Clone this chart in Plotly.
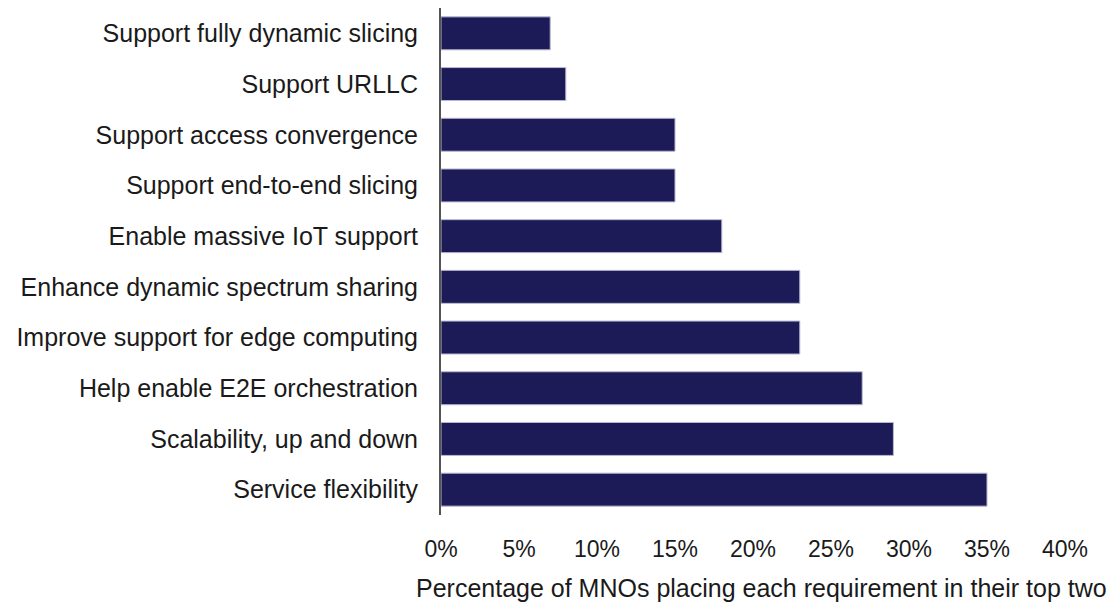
import plotly.graph_objects as go

categories = [
    "Support fully dynamic slicing",
    "Support URLLC",
    "Support access convergence",
    "Support end-to-end slicing",
    "Enable massive IoT support",
    "Enhance dynamic spectrum sharing",
    "Improve support for edge computing",
    "Help enable E2E orchestration",
    "Scalability, up and down",
    "Service flexibility",
]
values = [7, 8, 15, 15, 18, 23, 23, 27, 29, 35]
tick_vals = [0, 5, 10, 15, 20, 25, 30, 35, 40]
tick_text = ["0%", "5%", "10%", "15%", "20%", "25%", "30%", "35%", "40%"]
x_title = "Percentage of MNOs placing each requirement in their top two"

FONT = "Liberation Sans, Arial, sans-serif"

fig = go.Figure(
    go.Bar(
        x=values,
        y=categories,
        orientation="h",
        marker=dict(color="#1c1a57", line=dict(color="#b8b8d0", width=1)),
        hoverinfo="skip",
    )
)

fig.add_annotation(
    text=x_title,
    xref="paper",
    yref="paper",
    x=0.513,
    y=-0.144,
    xanchor="center",
    yanchor="middle",
    showarrow=False,
    font=dict(family=FONT, size=25, color="#1a1a1a"),
)

fig.update_layout(
    width=1117,
    height=603,
    margin=dict(l=441, r=52, t=8, b=88),
    paper_bgcolor="white",
    plot_bgcolor="white",
    bargap=0.35,
    showlegend=False,
    font=dict(family=FONT, size=23, color="#1a1a1a"),
    xaxis=dict(
        range=[0, 40],
        tickvals=tick_vals,
        ticktext=tick_text,
        showgrid=False,
        zeroline=False,
        showline=False,
        ticks="",
        ticklabelstandoff=18,
        tickfont=dict(family=FONT, size=23),
        automargin=False,
    ),
    yaxis=dict(
        autorange="reversed",
        showgrid=False,
        zeroline=False,
        showline=True,
        linecolor="#555555",
        linewidth=2,
        ticks="",
        ticklabelstandoff=16,
        tickfont=dict(family=FONT, size=25),
        automargin=False,
    ),
)

fig.write_html("out.html")
